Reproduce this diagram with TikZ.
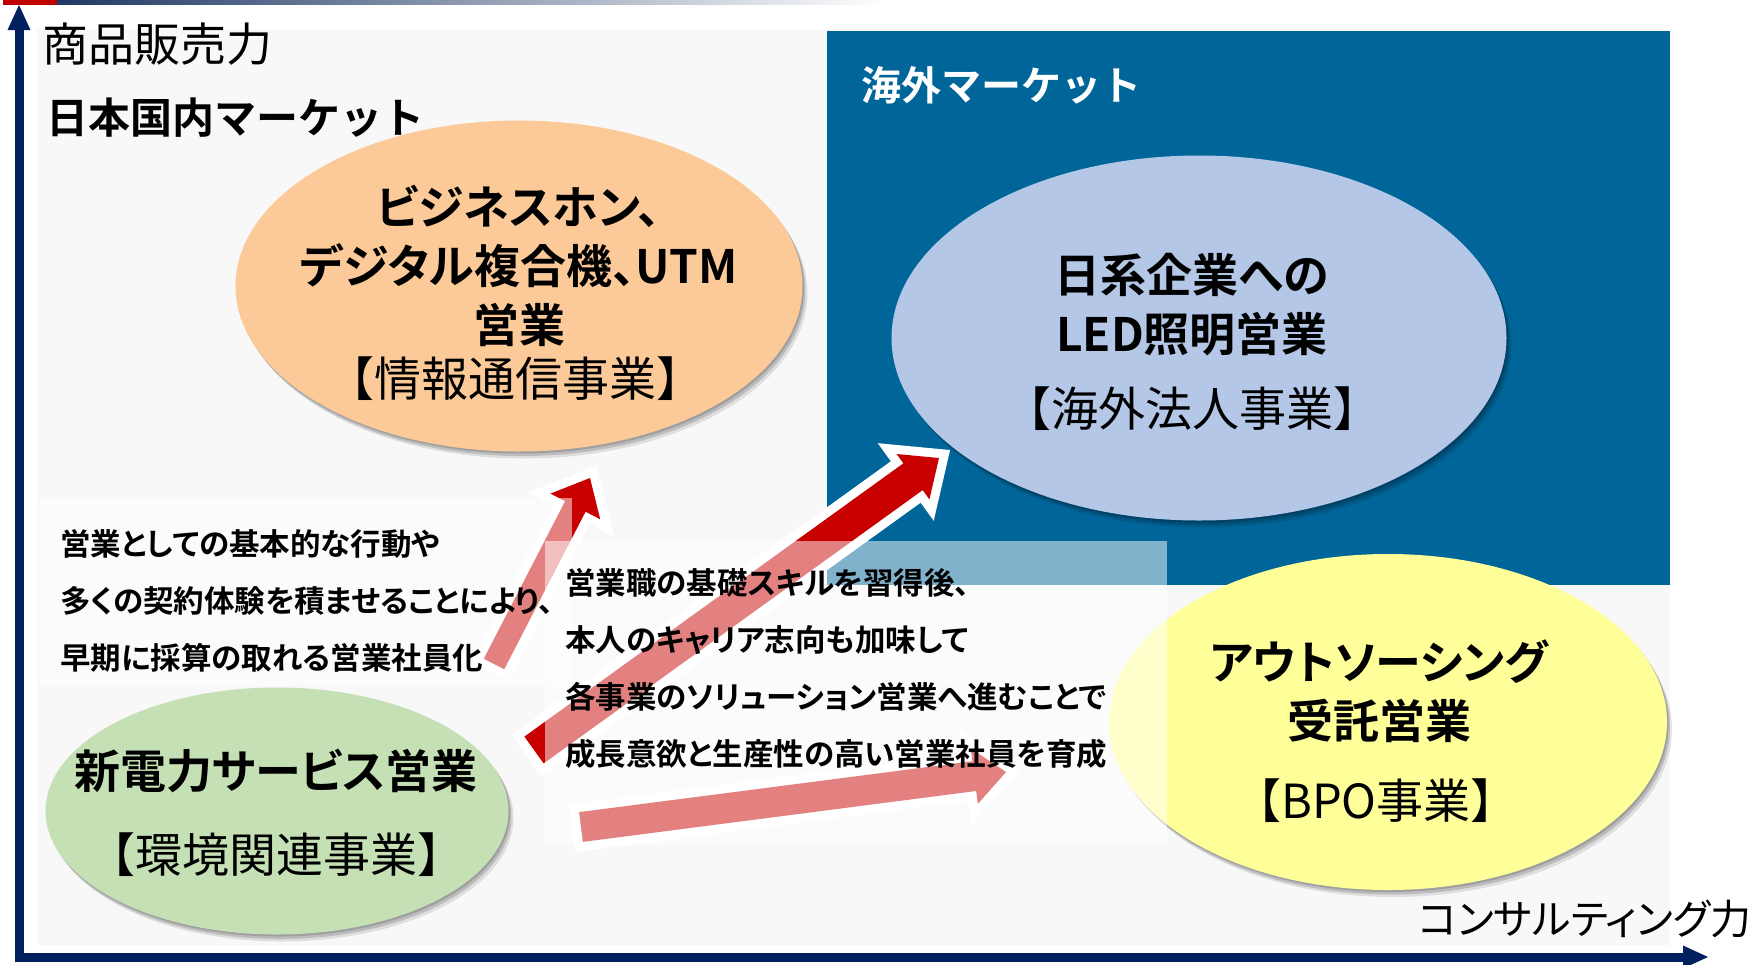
\documentclass[tikz,border=0pt]{standalone}
\usepackage{fontspec}
\setmainfont{Noto Sans CJK JP}[BoldFont={Noto Sans CJK JP Bold}, RawFeature=+palt]
\newfontfamily\widejp{Noto Sans CJK JP}[BoldFont={Noto Sans CJK JP Bold}]
\usepackage{xcolor}
\usepackage{tikz}
\usetikzlibrary{shapes.geometric, shadows, calc, arrows.meta}

\definecolor{panelgray}{HTML}{F8F8F8}
\definecolor{seablue}{HTML}{00669A}
\definecolor{axisnavy}{HTML}{002060}
\definecolor{linenavy}{HTML}{1F3864}
\definecolor{topred}{HTML}{C00000}
\definecolor{arrowred}{HTML}{C80000}
\definecolor{ictorange}{HTML}{FBCA98}
\definecolor{ledblue}{HTML}{B4C7E7}
\definecolor{bpoyellow}{HTML}{FFFF99}
\definecolor{ecogreen}{HTML}{C5E0B4}

\tikzset{
  bubble/.style={ellipse, inner sep=0pt,
    drop shadow={shadow xshift=5pt, shadow yshift=-7pt, opacity=0.10, fill=black},
    drop shadow={shadow xshift=3pt, shadow yshift=-4.5pt, opacity=0.15, fill=black},
    drop shadow={shadow xshift=1.5pt, shadow yshift=-2pt, opacity=0.15, fill=black}},
  title/.style={align=center, inner sep=0pt, font=\fontsize{46}{59}\selectfont\bfseries},
  division/.style={inner sep=0pt, font=\widejp\fontsize{47}{50}\selectfont},
  note/.style={align=left, anchor=west, inner sep=0pt, font=\fontsize{30.5}{57}\selectfont\bfseries},
  axis/.style={draw=axisnavy, line width=9pt, {Triangle[length=25pt, width=23pt, line width=0pt]}-{Triangle[length=25pt, width=23pt, line width=0pt]}},
  bigarrow/.style={fill=arrowred, preaction={draw=white, fill=white, line width=18pt, line join=miter}},
  veil/.style={fill=white, opacity=0.5},
}

% block arrow from tail #1 to tip #2, half shaft width #3
\newcommand\blockarrow[3]{%
  \coordinate (neck) at ($(#2)!32pt!(#1)$);
  \path [bigarrow] ($(#1)!#3!90:(#2)$) -- ($(neck)!#3!90:(#2)$) -- ($(neck)!28pt!90:(#2)$) -- (#2)
    -- ($(neck)!28pt!-90:(#2)$) -- ($(neck)!#3!-90:(#2)$) -- ($(#1)!#3!-90:(#2)$) -- cycle;
}

\begin{document}
\begin{tikzpicture}[x=1pt, y=-1pt]
        \useasboundingbox (0, 0) rectangle (1756, 964);
        \fill [panelgray] (37, 29) rectangle (1670, 945);
        \fill [seablue] (827, 31) rectangle (1670, 585);
        \fill [topred] (3, 0) rectangle (57, 4.5);
        \shade [left color=linenavy, middle color=linenavy!75, right color=white] (57, 0) rectangle (886, 4.5);

        \coordinate (origin) at (19, 957);
        \coordinate (ytop) at (19, 5);
        \coordinate (xend) at (1708, 957);
        \draw [axis] (ytop) -- (origin) -- (xend);

        \node (ict) at (519, 286) [bubble, fill=ictorange, minimum width=567pt, minimum height=331pt] {};
        \node (led) at (1199, 338) [bubble, fill=ledblue, minimum width=615pt, minimum height=365pt] {};
        \node (bpo) at (1388, 722) [bubble, fill=bpoyellow, minimum width=558pt, minimum height=336pt] {};
        \node (eco) at (277, 811) [bubble, fill=ecogreen, minimum width=463pt, minimum height=247pt] {};

        \coordinate (a1s) at (494, 664);
        \coordinate (a1e) at (590, 478);
        \coordinate (a2s) at (534, 750);
        \coordinate (a2e) at (939, 458);
        \coordinate (a3s) at (581, 827);
        \coordinate (a3e) at (1006, 772);
        \blockarrow{a1s}{a1e}{11.5pt}
        \blockarrow{a2s}{a2e}{16.5pt}
        \blockarrow{a3s}{a3e}{15pt}

        \fill [veil] (39, 498) rectangle (572, 686);
        \fill [veil] (545, 541) rectangle (1167, 845);

        \node (ylabel) at (42, 44) [anchor=west, inner sep=0pt, font=\fontsize{46}{46}\selectfont] {商品販売力};
        \node (xlabel) at (1752, 919) [anchor=east, inner sep=0pt, font=\fontsize{41}{41}\selectfont] {コンサルティング力};
        \node (home) at (46, 118) [anchor=west, inner sep=0pt, font=\widejp\fontsize{42}{42}\selectfont\bfseries] {日本国内マーケット};
        \node (abroad) at (861, 85) [anchor=west, inner sep=0pt, text=white, font=\widejp\fontsize{40}{40}\selectfont\bfseries] {海外マーケット};

        \node (ictt) at (519, 266) [title] {ビジネスホン、\\デジタル複合機、UTM\\営業};
        \node (icts) at (515, 379) [division] {【情報通信事業】};
        \node (ledt) at (1192, 305) [title] {日系企業への\\LED照明営業};
        \node (leds) at (1192, 409) [division] {【海外法人事業】};
        \node (bpot) at (1379, 691) [title] {アウトソーシング\\受託営業};
        \node (bpos) at (1376, 801) [division] {【BPO事業】};
        \node (ecot) at (276, 771) [title] {新電力サービス営業};
        \node (ecos) at (276, 855) [division] {【環境関連事業】};

        \node (basics) at (60, 601) [note] {営業としての基本的な行動や\\多くの契約体験を積ませることにより、\\早期に採算の取れる営業社員化};
        \node (growth) at (565, 669) [note] {営業職の基礎スキルを習得後、\\本人のキャリア志向も加味して\\各事業のソリューション営業へ進むことで\\成長意欲と生産性の高い営業社員を育成};
    \end{tikzpicture}
\end{document}
